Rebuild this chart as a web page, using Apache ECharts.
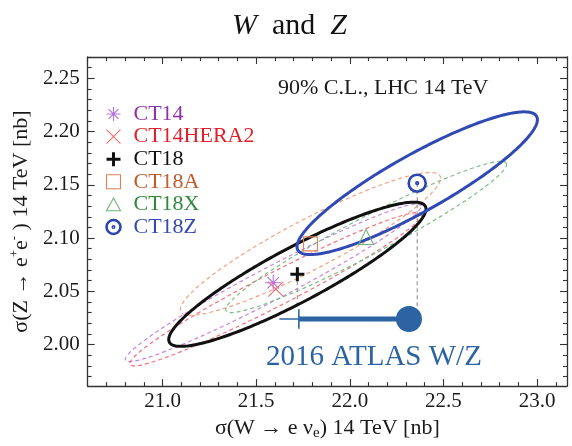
<!DOCTYPE html>
<html>
<head>
<meta charset="utf-8">
<script src="https://cdn.jsdelivr.net/npm/echarts@6/dist/echarts.min.js"></script>
<style>
  html, body { margin: 0; padding: 0; background: #fff; }
  #chart { width: 572px; height: 446px; }
</style>
</head>
<body>
<div id="chart"></div>
<script>
// 90% C.L. ellipses for the W and Z cross sections at 14 TeV
const pdfNames = ['CT14', 'CT14HERA2', 'CT18', 'CT18A', 'CT18X', 'CT18Z'];
const centerW  = [21.591, 21.605, 21.720, 21.790, 22.087, 22.360];
const centerZ  = [2.058, 2.052, 2.066, 2.0945, 2.101, 2.1515];
const halfW    = [0.790, 0.780, 0.687, 0.695, 0.750, 0.642];
const halfZ    = [0.074, 0.072, 0.0677, 0.067, 0.071, 0.067];
const corrWZ   = [0.972, 0.970, 0.905, 0.920, 0.960, 0.890];

// ATLAS 2016 measurement
const atlasW = 22.316;
const atlasZ = 2.024;
const atlasInnerLow = 21.728;
const atlasOuterLow = 21.624;
const guideBottomZ = 2.036;

// axis ticks
const xMajorTicks = [21.0, 21.5, 22.0, 22.5, 23.0];
const yMajorTicks = [2.00, 2.05, 2.10, 2.15, 2.20, 2.25];
const xRange = [20.6, 23.16];
const yRange = [1.961, 2.27];

function minorTicks(lo, hi, step, majors) {
  const out = [];
  const n0 = Math.ceil(lo / step - 1e-9), n1 = Math.floor(hi / step + 1e-9);
  for (let k = n0; k <= n1; k++) {
    const v = +(k * step).toFixed(4);
    if (!majors.some(m => Math.abs(m - v) < 1e-9)) out.push(v);
  }
  return out;
}
const xMinorTicks = minorTicks(xRange[0], xRange[1], 0.1, xMajorTicks);
const yMinorTicks = minorTicks(yRange[0], yRange[1], 0.01, yMajorTicks);

const SERIF = '"Liberation Serif", "DejaVu Serif", serif';
const FRAME = '#333';

const style = {
  CT14:      { text: '#9130ab', mark: '#b86ee0', line: '#c685e6', width: 1.2, dash: [4, 3], size: 16,
               symbol: 'path://M0,-10L0,10M-10,0L10,0M-7.07,-7.07L7.07,7.07M-7.07,7.07L7.07,-7.07', bw: 1.1 },
  CT14HERA2: { text: '#e0202c', mark: '#f06c6c', line: '#f2707e', width: 1.2, dash: [4, 3], size: 15,
               symbol: 'path://M-10,-10L10,10M-10,10L10,-10', bw: 1.1 },
  CT18:      { text: '#111111', mark: '#111111', line: '#111111', width: 3, dash: null, size: 14,
               symbol: 'path://M0,-10L0,10M-10,0L10,0', bw: 3 },
  CT18A:     { text: '#c25c2a', mark: '#e0805a', line: '#f2a184', width: 1.2, dash: [4, 3], size: 14,
               symbol: 'path://M-10,-10L10,-10L10,10L-10,10Z', bw: 1.1 },
  CT18X:     { text: '#2f8a3c', mark: '#70b47a', line: '#7cbf86', width: 1.2, dash: [4, 3], size: 15,
               symbol: 'path://M0,-10L10,8L-10,8Z', bw: 1.1 },
  CT18Z:     { text: '#3449b0', mark: '#2c44ad', line: '#3149b2', width: 3, dash: null, size: 17,
               symbol: 'path://M10,0A10,10,0,1,1,-10,0A10,10,0,1,1,10,0ZM1,0A1,1,0,1,1,-1,0A1,1,0,1,1,1,0Z', bw: 2.6 }
};
const ATLAS_BLUE = '#2c64a3';

function ellipseRenderer(st) {
  return function (params, api) {
    const cx = api.value(0), cy = api.value(1);
    const sx = api.value(2), sy = api.value(3), r = api.value(4);
    const q = Math.sqrt(1 - r * r);
    const pts = [];
    for (let i = 0; i < 240; i++) {
      const t = (i / 240) * 2 * Math.PI;
      pts.push(api.coord([cx + sx * Math.cos(t), cy + sy * (r * Math.cos(t) + q * Math.sin(t))]));
    }
    return {
      type: 'polygon',
      shape: { points: pts },
      style: { fill: 'none', stroke: st.line, lineWidth: st.width, lineDash: st.dash }
    };
  };
}

function valueAxis(base, extra) {
  return Object.assign({
    type: 'value',
    min: base[0], max: base[1],
    splitLine: { show: false },
    axisLine: { show: false },
    axisLabel: { show: false },
    axisTick: { show: false }
  }, extra);
}

function tickAxis(range, pos, ticks, len, withLine) {
  return valueAxis(range, {
    position: pos,
    axisLine: { show: withLine, lineStyle: { color: FRAME, width: 1.3 } },
    axisTick: { show: true, inside: true, length: len, customValues: ticks,
                lineStyle: { color: FRAME, width: 1.1 } }
  });
}

const xAxes = [
  Object.assign(tickAxis(xRange, 'bottom', xMajorTicks, 7, true), {
    axisLabel: { show: true, customValues: xMajorTicks, margin: 5,
                 fontFamily: SERIF, fontSize: 21, color: '#1a1a1a',
                 formatter: v => v.toFixed(1) },
    name: '{a|σ(W → e ν}{s|e}{a|) 14 TeV [nb]}',
    nameLocation: 'middle',
    nameGap: 25,
    nameTextStyle: {
      rich: {
        a: { fontFamily: SERIF, fontSize: 22, color: '#1a1a1a', lineHeight: 26 },
        s: { fontFamily: SERIF, fontSize: 15, color: '#1a1a1a', lineHeight: 15, verticalAlign: 'bottom' }
      }
    }
  }),
  tickAxis(xRange, 'bottom', xMinorTicks, 4, false),
  tickAxis(xRange, 'top', xMajorTicks, 7, true),
  tickAxis(xRange, 'top', xMinorTicks, 4, false)
];

const yAxes = [
  Object.assign(tickAxis(yRange, 'left', yMajorTicks, 7, true), {
    axisLabel: { show: true, customValues: yMajorTicks, margin: 8,
                 fontFamily: SERIF, fontSize: 21, color: '#1a1a1a',
                 formatter: v => v.toFixed(2) },
    name: '{a|σ(Z → e}{u|+}{a|e}{u|-}{a| ) 14 TeV [nb]}',
    nameLocation: 'middle',
    nameGap: 50,
    nameTextStyle: {
      rich: {
        a: { fontFamily: SERIF, fontSize: 22, color: '#1a1a1a', lineHeight: 26 },
        u: { fontFamily: SERIF, fontSize: 13, color: '#1a1a1a', lineHeight: 13, verticalAlign: 'top' }
      }
    }
  }),
  tickAxis(yRange, 'left', yMinorTicks, 4, false),
  tickAxis(yRange, 'right', yMajorTicks, 7, true),
  tickAxis(yRange, 'right', yMinorTicks, 4, false)
];

const series = [];

// ellipses: dashed ones first, solid ones on top
const drawOrder = [0, 1, 3, 4, 2, 5];
drawOrder.forEach(i => {
  const st = style[pdfNames[i]];
  series.push({
    type: 'custom',
    name: pdfNames[i],
    xAxisIndex: 0, yAxisIndex: 0,
    renderItem: ellipseRenderer(st),
    encode: { x: 0, y: 1 },
    data: [[centerW[i], centerZ[i], halfW[i], halfZ[i], corrWZ[i]]],
    silent: true,
    z: st.dash ? 2 : 3
  });
});

// guide lines from CT18 and CT18Z central values down to the ATLAS bar
[2, 5].forEach(i => {
  series.push({
    type: 'line',
    xAxisIndex: 0, yAxisIndex: 0,
    data: [[centerW[i], centerZ[i]], [centerW[i], guideBottomZ]],
    symbol: 'none', silent: true,
    lineStyle: { color: '#9a9a9a', width: 1.2, type: [4, 3] },
    z: 2
  });
});

// ATLAS bar: thin outer part, thick inner part, end tick, central point
series.push({
  type: 'line', xAxisIndex: 0, yAxisIndex: 0,
  data: [[atlasOuterLow, atlasZ], [atlasInnerLow, atlasZ]],
  symbol: 'none', silent: true,
  lineStyle: { color: ATLAS_BLUE, width: 1.6, opacity: 1 }, z: 4
});
series.push({
  type: 'line', xAxisIndex: 0, yAxisIndex: 0,
  data: [[atlasInnerLow, atlasZ], [atlasW, atlasZ]],
  symbol: 'none', silent: true,
  lineStyle: { color: ATLAS_BLUE, width: 5, opacity: 1 }, z: 4
});
series.push({
  type: 'line', xAxisIndex: 0, yAxisIndex: 0,
  data: [[atlasInnerLow, atlasZ - 0.0092], [atlasInnerLow, atlasZ + 0.0092]],
  symbol: 'none', silent: true,
  lineStyle: { color: ATLAS_BLUE, width: 1.6, opacity: 1 }, z: 4
});
series.push({
  type: 'scatter', xAxisIndex: 0, yAxisIndex: 0,
  data: [[atlasW, atlasZ]],
  symbol: 'circle', symbolSize: 26, silent: true,
  itemStyle: { color: ATLAS_BLUE, opacity: 1 }, z: 5
});

// central-value markers
pdfNames.forEach((name, i) => {
  const st = style[name];
  series.push({
    type: 'scatter',
    name: name,
    xAxisIndex: 0, yAxisIndex: 0,
    data: [[centerW[i], centerZ[i]]],
    symbol: st.symbol,
    symbolSize: st.size,
    silent: true,
    itemStyle: { color: 'rgba(0,0,0,0)', borderColor: st.mark, borderWidth: st.bw, opacity: 1 },
    z: 6
  });
});

const chart = echarts.init(document.getElementById('chart'), null, { renderer: 'canvas' });
chart.setOption({
  backgroundColor: '#ffffff',
  animation: false,
  title: {
    text: '{i|W}{r|  and  }{i|Z}',
    left: 227, top: 6,
    textStyle: {
      fontWeight: 'normal',
      rich: {
        i: { fontFamily: SERIF, fontSize: 30, fontStyle: 'italic', fontWeight: 'normal', color: '#111' },
        r: { fontFamily: SERIF, fontSize: 30, fontWeight: 'normal', color: '#111' }
      }
    }
  },
  grid: { left: 82, right: 5, top: 57, bottom: 49, containLabel: false },
  xAxis: xAxes,
  yAxis: yAxes,
  legend: {
    orient: 'vertical',
    left: 100, top: 98,
    itemWidth: 14, itemHeight: 14,
    itemGap: 0.6,
    selectedMode: false,
    textStyle: { fontFamily: SERIF, fontSize: 22, lineHeight: 22, padding: [0, 0, 0, 8] },
    data: pdfNames.map(name => ({
      name: name,
      icon: style[name].symbol,
      itemStyle: { color: 'rgba(0,0,0,0)', borderColor: style[name].mark, borderWidth: style[name].bw, opacity: 1 },
      textStyle: { color: style[name].text }
    }))
  },
  graphic: [
    {
      type: 'text', left: 278, top: 77, silent: true,
      style: { text: '90% C.L., LHC 14 TeV', font: '22px ' + SERIF, fill: '#1a1a1a' }
    },
    {
      type: 'text', left: 266, top: 343, silent: true,
      style: { text: '2016 ATLAS W/Z', font: '29px ' + SERIF, fill: ATLAS_BLUE }
    }
  ],
  series: series
});
</script>
</body>
</html>
